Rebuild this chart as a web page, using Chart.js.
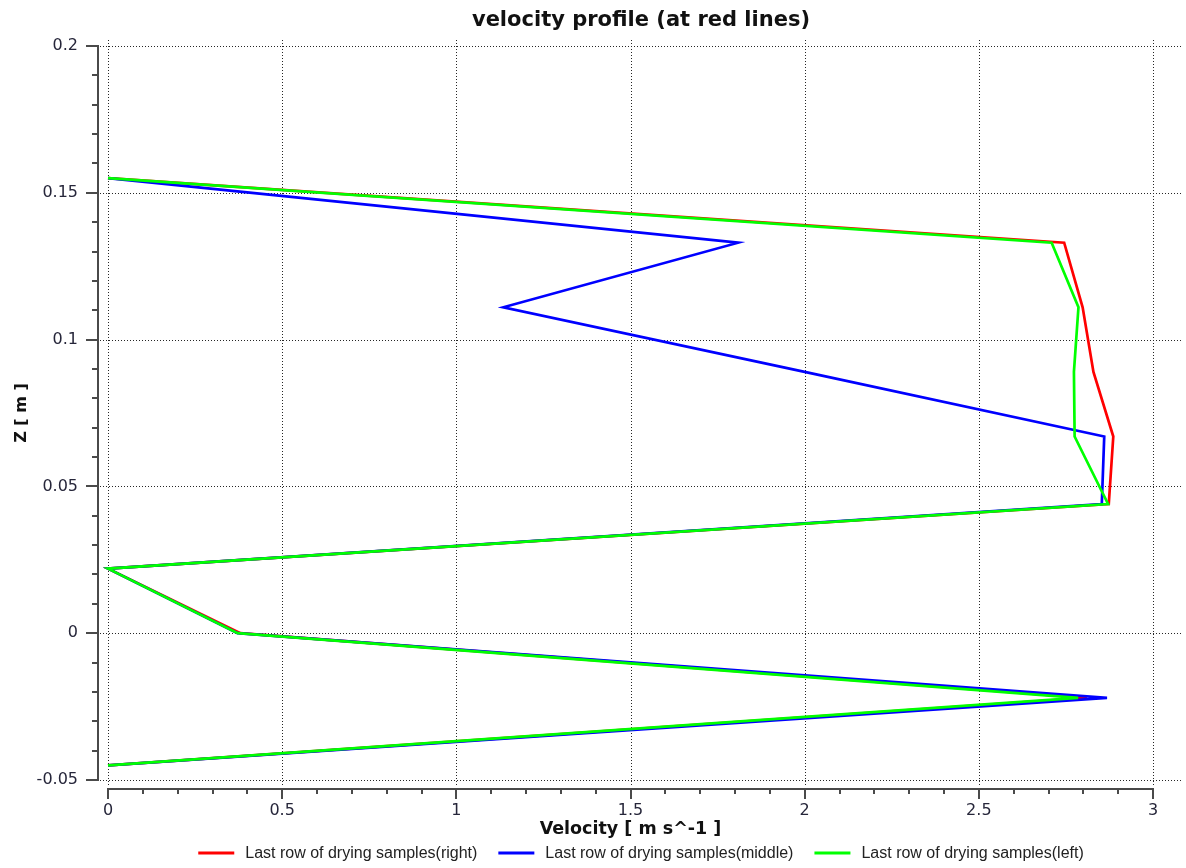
<!DOCTYPE html>
<html>
<head>
<meta charset="utf-8">
<title>velocity profile (at red lines)</title>
<script src="https://cdn.jsdelivr.net/npm/chart.js@4.4.1/dist/chart.umd.min.js"></script>
<style>
  html, body { margin: 0; padding: 0; background: #ffffff; }
  #wrap { width: 1186px; height: 868px; }
</style>
</head>
<body>
<div id="wrap"><canvas id="profile" width="1186" height="868"></canvas></div>
<script>
// Sampling heights along the red lines [m], listed from top to bottom
const heights = [0.155, 0.133, 0.111, 0.089, 0.067, 0.044, 0.022, 0, -0.022, -0.045];

// Velocity magnitude at each height [m/s]
const velocityRight  = [0, 2.745, 2.798, 2.829, 2.886, 2.873, 0, 0.380, 2.810, 0];
const velocityMiddle = [0, 1.809, 1.135, 2.000, 2.860, 2.853, 0, 0.372, 2.868, 0];
const velocityLeft   = [0, 2.709, 2.786, 2.773, 2.775, 2.871, 0, 0.372, 2.785, 0];

const seriesNames = [
  'Last row of drying samples(right)',
  'Last row of drying samples(middle)',
  'Last row of drying samples(left)'
];
const seriesColors = ['#ff0000', '#0000ff', '#00ff00'];

// Axis tick labels
const xTicks = [0, 0.5, 1, 1.5, 2, 2.5, 3];
const yTicks = [-0.05, 0, 0.05, 0.1, 0.15, 0.2];
const xMinorStep = 0.1;
const yMinorStep = 0.01;

const titleText = 'velocity profile (at red lines)';
const xTitleText = 'Velocity [ m s^-1 ]';
const yTitleText = 'Z [ m ]';

// Plot frame: the drawing area runs a few pixels past the labelled range
const X_PX_PER_UNIT = 1045 / 3;
const Y_PX_PER_UNIT = 734 / 0.25;
const xMin = xTicks[0] - 8 / X_PX_PER_UNIT;
const xMax = xTicks[xTicks.length - 1] + 29 / X_PX_PER_UNIT;
const yMin = yTicks[0] - 7 / Y_PX_PER_UNIT;
const yMax = yTicks[yTicks.length - 1] + 6 / Y_PX_PER_UNIT;

function toPoints(values) {
  return values.map((v, i) => ({ x: v, y: heights[i] }));
}

function lineSet(idx, values, order) {
  return {
    label: seriesNames[idx],
    data: toPoints(values),
    borderColor: seriesColors[idx],
    backgroundColor: seriesColors[idx],
    borderWidth: 2.7,
    showLine: true,
    pointRadius: 0,
    pointHoverRadius: 0,
    tension: 0,
    fill: false,
    order: order
  };
}

function fmt(v) {
  return String(parseFloat(Number(v).toFixed(3)));
}

// Dotted grid, offset axis lines with major/minor ticks
const frameplugin = {
  id: 'frame',
  beforeDatasetsDraw(chart) {
    const { ctx, chartArea: a } = chart;
    const xs = chart.scales.x, ys = chart.scales.y;
    ctx.save();
    ctx.strokeStyle = '#262626';
    ctx.lineWidth = 1;
    ctx.setLineDash([1, 2]);
    xTicks.forEach(v => {
      const px = Math.round(xs.getPixelForValue(v)) + 0.5;
      ctx.beginPath(); ctx.moveTo(px, a.top); ctx.lineTo(px, a.bottom); ctx.stroke();
    });
    yTicks.forEach(v => {
      const py = Math.round(ys.getPixelForValue(v)) + 0.5;
      ctx.beginPath(); ctx.moveTo(a.left, py); ctx.lineTo(a.right, py); ctx.stroke();
    });
    ctx.setLineDash([]);

    ctx.strokeStyle = '#4a4a4a';
    ctx.lineWidth = 2;
    // vertical axis
    const axX = a.left - 2;
    const yTop = Math.round(ys.getPixelForValue(yTicks[yTicks.length - 1]));
    const yBot = Math.round(ys.getPixelForValue(yTicks[0]));
    ctx.beginPath(); ctx.moveTo(axX, yTop - 1); ctx.lineTo(axX, yBot + 1); ctx.stroke();
    const nY = Math.round((yTicks[yTicks.length - 1] - yTicks[0]) / yMinorStep);
    for (let k = 0; k <= nY; k++) {
      const v = yTicks[0] + k * yMinorStep;
      const py = Math.round(ys.getPixelForValue(v));
      const major = k % 5 === 0;
      const len = major ? 12 : 6;
      ctx.beginPath(); ctx.moveTo(axX, py); ctx.lineTo(axX - len, py); ctx.stroke();
    }
    // horizontal axis
    const axY = a.bottom + 2;
    const xL = Math.round(xs.getPixelForValue(xTicks[0]));
    const xR = Math.round(xs.getPixelForValue(xTicks[xTicks.length - 1]));
    ctx.beginPath(); ctx.moveTo(xL - 1, axY); ctx.lineTo(xR + 1, axY); ctx.stroke();
    const nX = Math.round((xTicks[xTicks.length - 1] - xTicks[0]) / xMinorStep);
    for (let k = 0; k <= nX; k++) {
      const v = xTicks[0] + k * xMinorStep;
      const px = Math.round(xs.getPixelForValue(v));
      const major = k % 5 === 0;
      const len = major ? 10 : 5;
      ctx.beginPath(); ctx.moveTo(px, axY); ctx.lineTo(px, axY + len); ctx.stroke();
    }
    ctx.restore();
  }
};

// Title, axis titles and legend
const textplugin = {
  id: 'texts',
  afterDraw(chart) {
    const { ctx } = chart;
    const xs = chart.scales.x, ys = chart.scales.y;
    const a = chart.chartArea;
    const areaCx = (a.left + a.right) / 2;
    const cx = (xs.getPixelForValue(xTicks[0]) + xs.getPixelForValue(xTicks[xTicks.length - 1])) / 2;
    const cy = (ys.getPixelForValue(yTicks[0]) + ys.getPixelForValue(yTicks[yTicks.length - 1])) / 2;
    ctx.save();
    ctx.fillStyle = '#111111';
    ctx.textAlign = 'center';
    ctx.textBaseline = 'middle';
    ctx.font = 'bold 21px "DejaVu Sans"';
    ctx.fillText(titleText, areaCx, 21);

    ctx.font = 'bold 17.5px "DejaVu Sans"';
    ctx.fillText(xTitleText, cx, 829);

    ctx.save();
    ctx.font = 'bold 16px "DejaVu Sans"';
    ctx.translate(22, cy);
    ctx.rotate(-Math.PI / 2);
    ctx.fillText(yTitleText, 0, 0);
    ctx.restore();

    // legend
    ctx.font = '16px "Liberation Sans"';
    ctx.textAlign = 'left';
    const lineLen = 36, gapText = 11, gapItem = 21;
    const widths = seriesNames.map(s => ctx.measureText(s).width);
    const total = widths.reduce((s, w) => s + lineLen + gapText + w, 0) + gapItem * (seriesNames.length - 1);
    let x = areaCx - total / 2;
    const ly = 853;
    seriesNames.forEach((name, i) => {
      ctx.strokeStyle = seriesColors[i];
      ctx.lineWidth = 3;
      ctx.beginPath(); ctx.moveTo(x, ly); ctx.lineTo(x + lineLen, ly); ctx.stroke();
      ctx.fillStyle = '#222222';
      ctx.fillText(name, x + lineLen + gapText, ly + 1);
      x += lineLen + gapText + widths[i] + gapItem;
    });
    ctx.restore();
  }
};

new Chart(document.getElementById('profile'), {
  type: 'scatter',
  data: {
    datasets: [
      lineSet(0, velocityRight, 2),
      lineSet(1, velocityMiddle, 1),
      lineSet(2, velocityLeft, 0)
    ]
  },
  options: {
    responsive: false,
    animation: false,
    devicePixelRatio: 1,
    layout: { padding: { top: 40, right: 4, bottom: 0, left: 0 } },
    plugins: {
      legend: { display: false },
      title: { display: false },
      tooltip: { enabled: false }
    },
    scales: {
      x: {
        type: 'linear',
        min: xMin,
        max: xMax,
        afterBuildTicks: s => { s.ticks = xTicks.map(v => ({ value: v })); },
        afterFit: s => { s.height = 81; },
        grid: { display: false, drawTicks: false, tickLength: 0 },
        border: { display: false },
        ticks: {
          padding: 14,
          color: '#26263a',
          font: { family: '"DejaVu Sans"', size: 16 },
          maxRotation: 0,
          autoSkip: false,
          callback: v => fmt(v)
        }
      },
      y: {
        type: 'linear',
        min: yMin,
        max: yMax,
        afterBuildTicks: s => { s.ticks = yTicks.map(v => ({ value: v })); },
        afterFit: s => { s.width = 100; },
        grid: { display: false, drawTicks: false, tickLength: 0 },
        border: { display: false },
        ticks: {
          padding: 22,
          color: '#26263a',
          font: { family: '"DejaVu Sans"', size: 16 },
          autoSkip: false,
          callback: v => fmt(v)
        }
      }
    }
  },
  plugins: [frameplugin, textplugin]
});
</script>
</body>
</html>
